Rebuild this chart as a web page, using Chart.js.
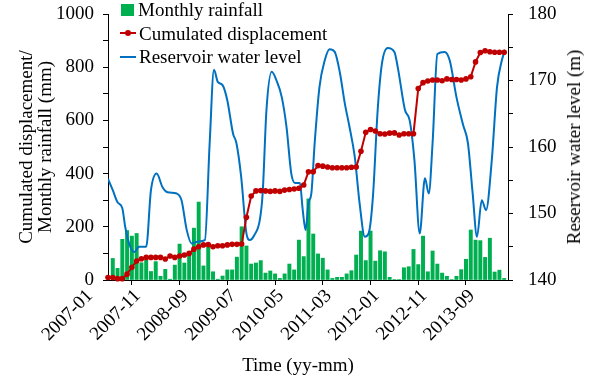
<!DOCTYPE html>
<html>
<head>
<meta charset="utf-8">
<script src="https://cdn.jsdelivr.net/npm/chart.js@4/dist/chart.umd.min.js"></script>
<style>
  html, body { margin: 0; padding: 0; background: #fff; }
  #wrap { position: relative; width: 598px; height: 378px; font-family: "Liberation Serif", "Times New Roman", serif; color: #000; }
  #legend { position: absolute; left: 120px; top: -2px; font-size: 19px; }
  .row { height: 23.5px; line-height: 23.5px; display: flex; align-items: center; white-space: nowrap; }
  .sw { position: relative; display: inline-block; width: 16px; height: 12px; margin-right: 3px; }
  .sw.bar { background: #00B050; width: 13px; margin-left: 1px; margin-right: 4px; }
  .sw .ln { position: absolute; left: 0; right: 0; top: 5px; height: 2px; }
  .sw .dot { position: absolute; left: 5px; top: 3px; width: 6px; height: 6px; border-radius: 50%; background: #C00000; }
  #rtitle { position: absolute; left: 574px; top: 147px; transform: translate(-50%, -50%) rotate(-90deg); font-size: 19px; white-space: nowrap; }
  #xtitle { position: absolute; left: 298px; top: 365px; transform: translate(-50%, -50%); font-size: 19px; white-space: nowrap; }
</style>
</head>
<body>
<div id="wrap">
  <canvas id="chart" width="598" height="378"></canvas>
  <div id="legend">
    <div class="row"><span class="sw bar"></span>Monthly rainfall</div>
    <div class="row"><span class="sw"><span class="ln" style="background:#C00000"></span><span class="dot"></span></span>Cumulated displacement</div>
    <div class="row"><span class="sw"><span class="ln" style="background:#0070C0"></span></span>Reservoir water level</div>
  </div>
  <div id="rtitle">Reservoir water level (m)</div>
  <div id="xtitle">Time (yy-mm)</div>
</div>
<script>
// month index 0 = 2007-01
const START_YEAR = 2007;

// monthly rainfall (mm), 2007-01 .. 2013-12
const rainfall = [
  5, 81, 44, 153, 186, 165, 175, 65, 75, 32, 69, 14,
  40, 3, 56, 135, 64, 100, 195, 293, 53, 125, 31, 3,
  15, 38, 38, 86, 200, 128, 60, 64, 73, 26, 34, 23,
  6, 23, 60, 38, 150, 88, 305, 173, 98, 82, 38, 6,
  10, 10, 23, 35, 94, 184, 73, 184, 71, 110, 106, 10,
  2, 2, 46, 50, 115, 58, 165, 31, 109, 60, 26, 14,
  2, 14, 39, 78, 188, 150, 148, 85, 157, 30, 37, 6
];

// cumulated displacement (mm), 2007-01 .. 2013-12
const displacement = [
  9, 9, 5, 5, 22, 48, 71, 80, 85, 85, 85, 85,
  79, 90, 85, 90, 94, 100, 116, 125, 132, 133, 125, 129,
  129, 132, 134, 134, 135, 236, 316, 335, 336, 335, 333, 335,
  333, 338, 340, 342, 345, 357, 407, 407, 430, 428, 425, 422,
  422, 422, 422, 424, 425, 484, 555, 566, 560, 550, 549, 552,
  553, 545, 550, 550, 550, 720, 742, 748, 752, 752, 749, 756,
  754, 754, 752, 756, 764, 820, 855, 862, 858, 856, 856, 856
];

// reservoir water level (m), read at month positions along the curve
const levelMonth = [
  0, 1, 2, 3, 3.6, 4.5, 5.5, 6.5, 8, 9, 10.2, 11.4, 12.5, 14.4, 15.4, 16.5, 17.5, 19, 20.3,
  21.3, 22.2, 23, 24, 25, 26.2, 26.9, 27.9, 29, 29.7, 30.7, 31.8, 32.4, 33.2, 34.3, 35.3,
  36.4, 37.4, 38.4, 39.2, 40.2, 40.8, 41.4, 42, 42.6, 43.3, 44.3, 45.4, 46.4, 47.5, 48.6,
  49.6, 50.6, 51.7, 52.7, 53.8, 54.6, 55.5, 56.5, 57.4, 58.6, 60, 60.8, 62.2, 63.2, 64.2,
  65.3, 66.4, 67.2, 68, 69, 70.5, 71.6, 73, 74.4, 75.4, 76.4, 77.3, 78.3, 79.2, 80.4,
  81.5, 82.5, 83.2
];
const levelValue = [
  155.2, 153.5, 151.7, 150.8, 148, 145.3, 144.2, 145, 145, 153.5, 156, 154, 153.2, 153, 152, 147.5, 145.5, 145.8, 146,
  160.6, 171.6, 169.8, 169.3, 167, 162, 160.6, 155.5, 147, 146, 146.8, 149, 153, 165.6, 171.3, 170,
  167.5, 163, 156, 154.6, 154.6, 150.5, 147.5, 151.6, 153, 160.6, 169, 173, 174.7, 174.3, 171.1,
  166.6, 163, 158.5, 151.6, 146.5, 147, 152.5, 165.6, 172.6, 174.9, 174.3, 171.6, 165.6, 164, 158,
  147, 155.3, 153, 160.6, 174, 174.3, 173, 167.5, 163.3, 160.6, 153, 146.5, 152, 150.5, 158,
  169, 173, 174.6
];

const leftTicks = [0, 200, 400, 600, 800, 1000];
const rightTicks = [140, 150, 160, 170, 180];

function monthLabel(i) {
  const y = START_YEAR + Math.floor(i / 12);
  const m = (i % 12) + 1;
  return y + "-" + String(m).padStart(2, "0");
}

const FONT = { family: "'Liberation Serif', 'Times New Roman', serif", size: 19 };

// keep the plot box where the reference has it
function fixVertical(width) {
  return s => { s.width = width; s.paddingTop = 0; s.paddingBottom = 0; };
}

new Chart(document.getElementById("chart"), {
  type: "bar",
  data: {
    datasets: [
      {
        type: "line",
        label: "Cumulated displacement",
        data: displacement.map((v, i) => ({ x: i, y: v })),
        borderColor: "#C00000",
        backgroundColor: "#C00000",
        borderWidth: 2,
        pointRadius: 2.8,
        pointBorderWidth: 0,
        tension: 0,
        clip: false,
        yAxisID: "y",
        order: 0
      },
      {
        type: "line",
        label: "Reservoir water level",
        data: levelMonth.map((m, i) => ({ x: m, y: levelValue[i] })),
        borderColor: "#0070C0",
        borderWidth: 2,
        pointRadius: 0,
        cubicInterpolationMode: "monotone",
        yAxisID: "y2",
        order: 1
      },
      {
        label: "Monthly rainfall",
        data: rainfall.map((v, i) => ({ x: i, y: v })),
        backgroundColor: "#00B050",
        barThickness: 3.3,
        yAxisID: "y",
        order: 2
      }
    ]
  },
  options: {
    responsive: false,
    animation: false,
    devicePixelRatio: 1,
    layout: { padding: { top: 14, left: 0, right: 0, bottom: 0 } },
    plugins: {
      legend: { display: false },
      tooltip: { enabled: false }
    },
    scales: {
      x: {
        type: "linear",
        min: 0,
        max: 83.8,
        offset: false,
        afterFit: s => { s.height = 98; s.paddingLeft = 0; s.paddingRight = 0; },
        grid: { display: true, drawOnChartArea: false, tickLength: 5, color: "#000" },
        border: { display: true, color: "#000", width: 1 },
        ticks: {
          stepSize: 10,
          includeBounds: false,
          autoSkip: false,
          minRotation: 45,
          maxRotation: 45,
          padding: 0,
          labelOffset: -18,
          color: "#000",
          font: FONT,
          callback: v => monthLabel(v)
        }
      },
      y: {
        position: "left",
        min: 0,
        max: 1000,
        afterFit: fixVertical(108),
        grid: { display: true, drawOnChartArea: false, tickLength: 5, color: "#000" },
        border: { display: true, color: "#000", width: 1 },
        ticks: {
          stepSize: 100,
          padding: 9,
          color: "#000",
          font: FONT,
          callback: v => leftTicks.includes(v) ? v : ""
        },
        title: {
          display: true,
          text: ["Cumulated displacement/", "Monthly rainfall (mm)"],
          color: "#000",
          font: { ...FONT, lineHeight: 1 },
          padding: { top: 18, bottom: 0 }
        }
      },
      y2: {
        position: "right",
        min: 140,
        max: 180,
        afterFit: fixVertical(90),
        grid: { display: true, drawOnChartArea: false, tickLength: 5, color: "#000" },
        border: { display: true, color: "#000", width: 1 },
        ticks: {
          stepSize: 5,
          padding: 15,
          color: "#000",
          font: FONT,
          callback: v => rightTicks.includes(v) ? v : ""
        }
      }
    }
  }
});
</script>
</body>
</html>
